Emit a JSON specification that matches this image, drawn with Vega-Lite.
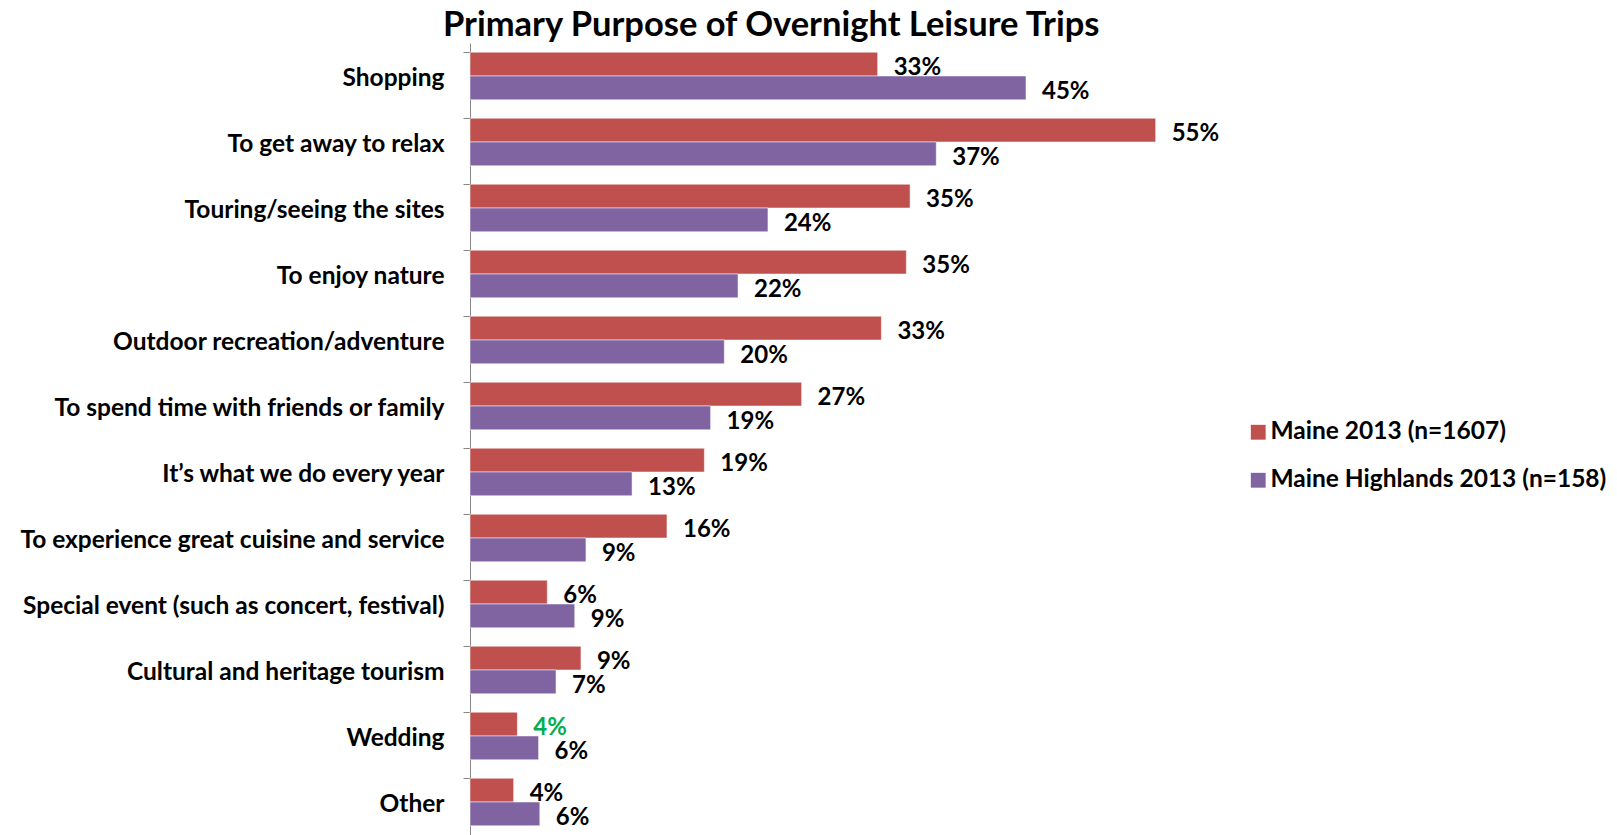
{
  "$schema": "https://vega.github.io/schema/vega-lite/v6.json",
  "autosize": "none",
  "padding": {"left": 470, "top": 43, "right": 399, "bottom": 0},
  "width": 748,
  "height": 792,
  "background": "white",
  "title": {
    "text": "Primary Purpose of Overnight Leisure Trips",
    "anchor": "start",
    "frame": "group",
    "dx": -27,
    "offset": 0,
    "font": "Lato",
    "fontSize": 34.5,
    "fontWeight": "bold",
    "color": "#000000"
  },
  "config": {"view": {"stroke": null}},
  "data": {
    "values": [
      {"purpose": "Shopping", "series": "Maine 2013 (n=1607)", "value": 32.7, "label": "33%", "green": false},
      {"purpose": "Shopping", "series": "Maine Highlands 2013 (n=158)", "value": 44.6, "label": "45%", "green": false},
      {"purpose": "To get away to relax", "series": "Maine 2013 (n=1607)", "value": 55.0, "label": "55%", "green": false},
      {"purpose": "To get away to relax", "series": "Maine Highlands 2013 (n=158)", "value": 37.4, "label": "37%", "green": false},
      {"purpose": "Touring/seeing the sites", "series": "Maine 2013 (n=1607)", "value": 35.3, "label": "35%", "green": false},
      {"purpose": "Touring/seeing the sites", "series": "Maine Highlands 2013 (n=158)", "value": 23.9, "label": "24%", "green": false},
      {"purpose": "To enjoy nature", "series": "Maine 2013 (n=1607)", "value": 35.0, "label": "35%", "green": false},
      {"purpose": "To enjoy nature", "series": "Maine Highlands 2013 (n=158)", "value": 21.5, "label": "22%", "green": false},
      {"purpose": "Outdoor recreation/adventure", "series": "Maine 2013 (n=1607)", "value": 33.0, "label": "33%", "green": false},
      {"purpose": "Outdoor recreation/adventure", "series": "Maine Highlands 2013 (n=158)", "value": 20.4, "label": "20%", "green": false},
      {"purpose": "To spend time with friends or family", "series": "Maine 2013 (n=1607)", "value": 26.6, "label": "27%", "green": false},
      {"purpose": "To spend time with friends or family", "series": "Maine Highlands 2013 (n=158)", "value": 19.3, "label": "19%", "green": false},
      {"purpose": "It’s what we do every year", "series": "Maine 2013 (n=1607)", "value": 18.8, "label": "19%", "green": false},
      {"purpose": "It’s what we do every year", "series": "Maine Highlands 2013 (n=158)", "value": 13.0, "label": "13%", "green": false},
      {"purpose": "To experience great cuisine and service", "series": "Maine 2013 (n=1607)", "value": 15.8, "label": "16%", "green": false},
      {"purpose": "To experience great cuisine and service", "series": "Maine Highlands 2013 (n=158)", "value": 9.3, "label": "9%", "green": false},
      {"purpose": "Special event (such as concert, festival)", "series": "Maine 2013 (n=1607)", "value": 6.2, "label": "6%", "green": false},
      {"purpose": "Special event (such as concert, festival)", "series": "Maine Highlands 2013 (n=158)", "value": 8.4, "label": "9%", "green": false},
      {"purpose": "Cultural and heritage tourism", "series": "Maine 2013 (n=1607)", "value": 8.9, "label": "9%", "green": false},
      {"purpose": "Cultural and heritage tourism", "series": "Maine Highlands 2013 (n=158)", "value": 6.9, "label": "7%", "green": false},
      {"purpose": "Wedding", "series": "Maine 2013 (n=1607)", "value": 3.8, "label": "4%", "green": true},
      {"purpose": "Wedding", "series": "Maine Highlands 2013 (n=158)", "value": 5.5, "label": "6%", "green": false},
      {"purpose": "Other", "series": "Maine 2013 (n=1607)", "value": 3.5, "label": "4%", "green": false},
      {"purpose": "Other", "series": "Maine Highlands 2013 (n=158)", "value": 5.6, "label": "6%", "green": false}
    ]
  },
  "encoding": {
    "y": {
      "field": "purpose",
      "type": "nominal",
      "sort": null,
      "scale": {"paddingInner": 0.28, "paddingOuter": 0.14},
      "axis": {
        "title": null,
        "bandPosition": 0,
        "labelOffset": 3,
        "domainColor": "#868686",
        "tickColor": "#868686",
        "tickSize": 7,
        "labelPadding": 19,
        "labelFont": "Lato",
        "labelFontSize": 24.5,
        "labelFontWeight": "bold",
        "labelColor": "#000000",
        "labelLimit": 600
      }
    },
    "yOffset": {"field": "series", "type": "nominal", "sort": ["Maine 2013 (n=1607)", "Maine Highlands 2013 (n=158)"], "scale": {"paddingInner": 0, "paddingOuter": 0}},
    "x": {
      "field": "value",
      "type": "quantitative",
      "scale": {"domain": [0, 60]},
      "axis": null
    }
  },
  "layer": [
    {
      "mark": {"type": "bar", "stroke": "#ffffff", "strokeWidth": 0.5},
      "encoding": {
        "color": {
          "field": "series",
          "type": "nominal",
          "sort": ["Maine 2013 (n=1607)", "Maine Highlands 2013 (n=158)"],
          "scale": {"range": ["#C0504D", "#8064A2"]},
          "legend": {
            "title": null,
            "orient": "none",
            "legendX": 776,
            "legendY": 377,
            "symbolType": "square",
            "symbolSize": 220,
            "symbolStrokeWidth": 0,
            "labelFont": "Lato",
            "labelFontSize": 24.5,
            "labelFontWeight": "bold",
            "labelColor": "#000000",
            "rowPadding": 23,
            "labelOffset": 0,
            "labelLimit": 500
          }
        }
      }
    },
    {
      "mark": {"type": "text", "align": "left", "baseline": "middle", "dx": 16, "dy": 4, "font": "Lato", "fontSize": 24, "fontWeight": "bold"},
      "encoding": {
        "text": {"field": "label"},
        "color": {
          "condition": {"test": "datum.green", "value": "#00B050"},
          "value": "#000000"
        }
      }
    }
  ]
}
